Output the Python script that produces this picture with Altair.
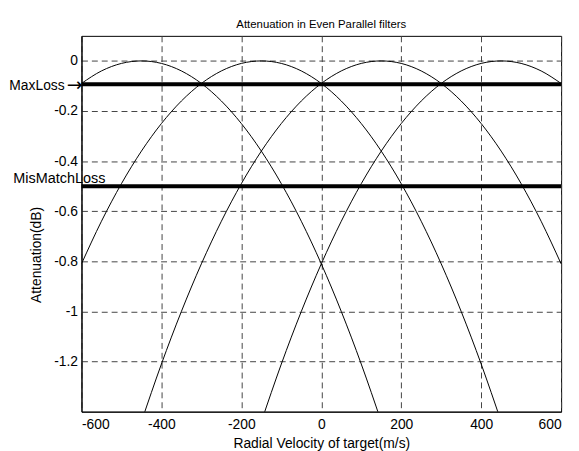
import altair as alt
import pandas as pd

# Radial velocity sample points (m/s)
velocity = [-600, -550, -500, -450, -400, -350, -300, -250, -200, -150, -100, -50, 0,
            50, 100, 150, 200, 250, 300, 350, 400, 450, 500, 550, 600]

# Attenuation (dB) of each of the four filters (None = off-chart)
filter1 = [-0.09, -0.04, -0.01, 0.0, -0.01, -0.04, -0.09, -0.16, -0.25, -0.36, -0.49, -0.64, -0.81,
           -1.00, -1.21, -1.44, None, None, None, None, None, None, None, None, None]
filter2 = [-0.81, -0.64, -0.49, -0.36, -0.25, -0.16, -0.09, -0.04, -0.01, 0.0, -0.01, -0.04, -0.09,
           -0.16, -0.25, -0.36, -0.49, -0.64, -0.81, -1.00, -1.21, -1.44, None, None, None]
filter3 = [None, None, None, -1.44, -1.21, -1.00, -0.81, -0.64, -0.49, -0.36, -0.25, -0.16, -0.09,
           -0.04, -0.01, 0.0, -0.01, -0.04, -0.09, -0.16, -0.25, -0.36, -0.49, -0.64, -0.81]
filter4 = [None, None, None, None, None, None, None, None, None, -1.44, -1.21, -1.00, -0.81,
           -0.64, -0.49, -0.36, -0.25, -0.16, -0.09, -0.04, -0.01, 0.0, -0.01, -0.04, -0.09]

max_loss = -0.093
mismatch_loss = -0.5

x_ticks = [-600, -400, -200, 0, 200, 400, 600]
y_ticks = [0, -0.2, -0.4, -0.6, -0.8, -1, -1.2]

rows = []
for name, ys in [("f1", filter1), ("f2", filter2), ("f3", filter3), ("f4", filter4)]:
    for v, a in zip(velocity, ys):
        if a is not None:
            rows.append({"filter": name, "v": v, "att": a})
df = pd.DataFrame(rows)

FONT = "Liberation Sans"

xscale = alt.Scale(domain=[-600, 600], nice=False, zero=False)
yscale = alt.Scale(domain=[-1.4, 0.1], nice=False, zero=False)

xaxis = alt.Axis(values=x_ticks, title="Radial Velocity of target(m/s)", grid=True,
                 gridDash=[6, 4], gridColor="#444", gridOpacity=1, ticks=False,
                 labelPadding=6, labelExpr="'' + datum.value", titlePadding=5)
yaxis = alt.Axis(values=y_ticks, title="Attenuation(dB)", grid=True,
                 gridDash=[6, 4], gridColor="#444", gridOpacity=1, ticks=False,
                 labelPadding=4, labelExpr="'' + datum.value",
                 titleX=-38, titleY=221, titleAngle=270, titleBaseline="bottom",
                 titleAlign="center")

curves = alt.Chart(df).mark_line(color="black", strokeWidth=1, clip=True,
                                 interpolate="monotone").encode(
    x=alt.X("v:Q", scale=xscale, axis=xaxis),
    y=alt.Y("att:Q", scale=yscale, axis=yaxis),
    detail="filter:N",
)

lines_df = pd.DataFrame({"y": [max_loss, mismatch_loss]})
thick = alt.Chart(lines_df).mark_rule(color="black", strokeWidth=4).encode(
    y=alt.Y("y:Q", scale=yscale)
)

maxloss_text = alt.Chart(pd.DataFrame({"x": [-600], "y": [max_loss], "t": ["MaxLoss"]})).mark_text(
    align="right", baseline="alphabetic", font=FONT, fontSize=14, color="black", dx=-17, dy=6
).encode(x=alt.X("x:Q", scale=xscale), y=alt.Y("y:Q", scale=yscale), text="t:N")

arrow_text = alt.Chart(pd.DataFrame({"x": [-600], "y": [max_loss], "t": ["\u2192"]})).mark_text(
    align="right", baseline="middle", font="DejaVu Sans", fontSize=19, color="black", dx=1, dy=1
).encode(x=alt.X("x:Q", scale=xscale), y=alt.Y("y:Q", scale=yscale), text="t:N")

mismatch_text = alt.Chart(pd.DataFrame({"x": [-600], "y": [mismatch_loss], "t": ["MisMatchLoss"]})).mark_text(
    align="left", baseline="alphabetic", font=FONT, fontSize=14.6, color="black", dx=-69, dy=-3
).encode(x=alt.X("x:Q", scale=xscale), y=alt.Y("y:Q", scale=yscale), text="t:N")

chart = alt.layer(curves, thick, maxloss_text, arrow_text, mismatch_text).properties(
    width=485, height=380,
    title=alt.TitleParams("Attenuation in Even Parallel filters", fontSize=11.5,
                          fontWeight="normal", font=FONT, anchor="middle", offset=5, color="black"),
    autosize=alt.AutoSizeParams(type="none"),
    padding={"left": 74.3, "top": 25.7, "right": 10, "bottom": 37},
).configure_view(stroke="black", strokeWidth=1).configure_axis(
    domainColor="black", labelColor="black", titleColor="black",
    labelFont=FONT, titleFont=FONT, labelFontSize=14, titleFontSize=14,
    titleFontWeight="normal",
)

chart.save("out.html", embed_options={"renderer": "svg", "actions": False})
